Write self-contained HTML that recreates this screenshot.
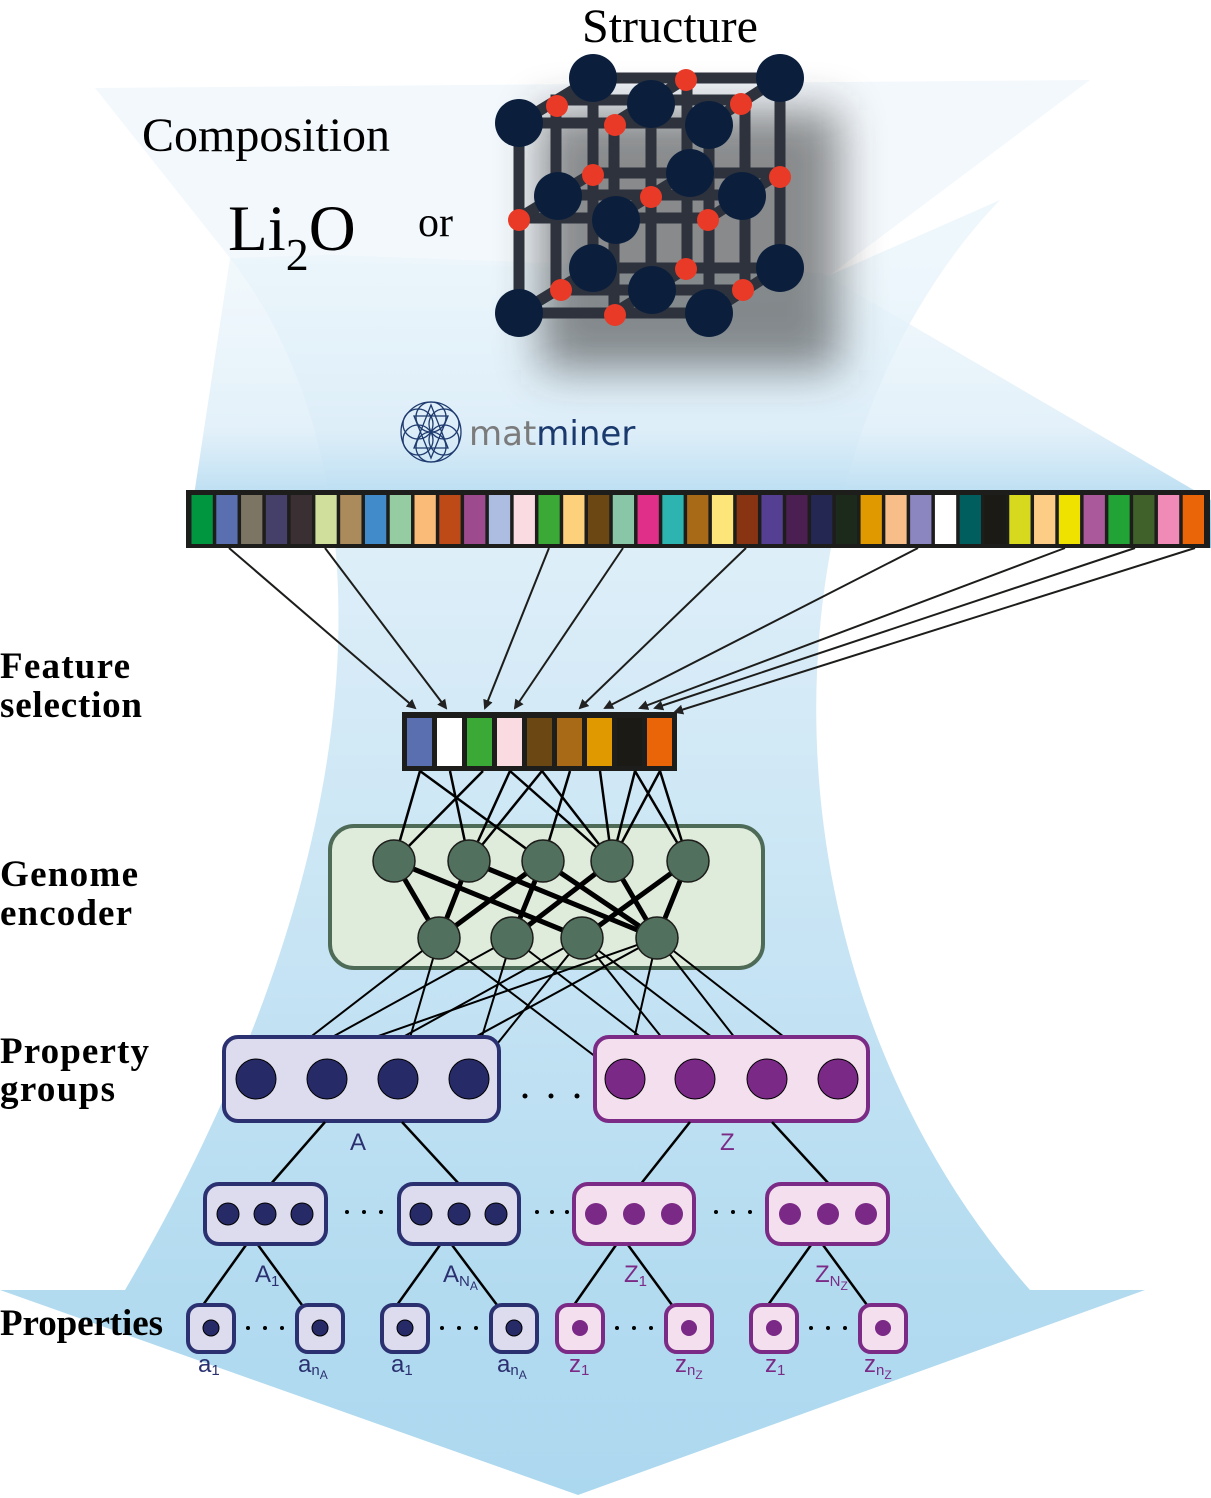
<!DOCTYPE html>
<html><head><meta charset="utf-8"><style>
html,body{margin:0;padding:0;background:#fff}
svg{display:block}
.lbl{font-family:"Liberation Serif",serif;font-weight:bold;font-size:37px;fill:#000}
.sm{font-family:"Liberation Sans",sans-serif;font-size:24px}
</style></head><body>
<svg width="1211" height="1498" viewBox="0 0 1211 1498" xmlns="http://www.w3.org/2000/svg">
<defs>
<linearGradient id="body" x1="0" y1="0" x2="0" y2="1498" gradientUnits="userSpaceOnUse">
<stop offset="0.17" stop-color="#eef7fc"/><stop offset="0.45" stop-color="#d6ebf7"/><stop offset="0.86" stop-color="#b3dbf0"/><stop offset="1" stop-color="#acd8ef"/>
</linearGradient>
<linearGradient id="fan" x1="0" y1="250" x2="0" y2="548" gradientUnits="userSpaceOnUse">
<stop offset="0" stop-color="#eaf5fb" stop-opacity="0.6"/><stop offset="0.6" stop-color="#dcedf8" stop-opacity="0.8"/><stop offset="0.85" stop-color="#b6dcf1"/><stop offset="1" stop-color="#86c6e8"/>
</linearGradient>
<filter id="blur" x="-30%" y="-30%" width="160%" height="160%"><feGaussianBlur stdDeviation="22"/></filter>
<marker id="ah" markerWidth="10" markerHeight="10" refX="8" refY="5" orient="auto" markerUnits="userSpaceOnUse" viewBox="0 0 10 10"><path d="M0,0 L10,5 L0,10 z" fill="#222"/></marker>
</defs>
<!-- background -->
<path d="M95,88 L1090,80 L830,275 L230,258 Z" fill="#f3f8fc"/>
<path d="M230,258 C380,450 400,820 125,1290 L0,1290 L578,1495 L1145,1290 L1030,1290 C740,960 760,450 1000,200 L830,275 Z" fill="url(#body)"/>
<path d="M230,258 L330,255 L822,273 L1211,500 L1211,548 L186,548 Z" fill="url(#fan)"/>
<!-- crystal shadow -->
<rect x="540" y="110" width="300" height="260" fill="#333" opacity="0.55" filter="url(#blur)"/>
<!-- crystal -->
<g stroke="#2d323c" stroke-width="11" fill="none">
<path d="M593,78 H780 V268 H593 Z"/>
<path d="M556,100 H745 V290 H556 Z"/>
<path d="M519,123 H709 V313 H519 Z"/>
<path d="M519,123 L593,78 M709,123 L780,78 M519,313 L593,268 M709,313 L780,268"/>
<path d="M614,123 V313 M519,218 H709 M651,100 V290 M556,195 H745 M687,78 V268 M593,173 H780"/>
<path d="M614,123 L687,78 M614,313 L687,268 M519,218 L593,173 M709,218 L780,173 M614,218 L687,173"/>
</g>
<g fill="#0b1f3d">
<ellipse cx="593" cy="78" rx="24" ry="24"/><ellipse cx="780" cy="78" rx="24" ry="24"/>
<ellipse cx="519" cy="123" rx="24" ry="24"/><ellipse cx="651" cy="104" rx="24" ry="24"/><ellipse cx="709" cy="125" rx="24" ry="24"/>
<ellipse cx="690" cy="173" rx="24" ry="24"/><ellipse cx="558" cy="196" rx="24" ry="24"/><ellipse cx="742" cy="196" rx="24" ry="24"/><ellipse cx="616" cy="220" rx="24" ry="24"/>
<ellipse cx="593" cy="268" rx="24" ry="24"/><ellipse cx="780" cy="268" rx="24" ry="24"/><ellipse cx="652" cy="290" rx="24" ry="24"/>
<ellipse cx="519" cy="313" rx="24" ry="24"/><ellipse cx="709" cy="313" rx="24" ry="24"/>
</g>
<g fill="#e83a26">
<circle cx="686" cy="80" r="11"/><circle cx="557" cy="106" r="11"/><circle cx="741" cy="104" r="11"/><circle cx="615" cy="125" r="11"/>
<circle cx="593" cy="175" r="11"/><circle cx="780" cy="177" r="11"/><circle cx="651" cy="197" r="11"/><circle cx="708" cy="220" r="11"/><circle cx="519" cy="220" r="11"/>
<circle cx="686" cy="269" r="11"/><circle cx="561" cy="290" r="11"/><circle cx="743" cy="290" r="11"/><circle cx="615" cy="315" r="11"/>
</g>
<!-- top text -->
<text x="582" y="42" font-family="Liberation Serif,serif" font-size="48">Structure</text>
<text x="142" y="151" font-family="Liberation Serif,serif" font-size="48">Composition</text>
<text x="228" y="250" font-family="Liberation Serif,serif" font-size="65">Li<tspan font-size="46" dy="20">2</tspan><tspan dy="-20">O</tspan></text>
<text x="418" y="236" font-family="Liberation Serif,serif" font-size="42">or</text>
<!-- matminer logo -->
<g fill="none" stroke="#1e3a6e" stroke-width="1.3">
<circle cx="431" cy="417" r="15"/><circle cx="431" cy="447" r="15"/><circle cx="418" cy="424" r="15"/><circle cx="444" cy="424" r="15"/><circle cx="418" cy="440" r="15"/><circle cx="444" cy="440" r="15"/><circle cx="431" cy="432" r="30"/>
<path d="M431,405 L414,448 L448,448 Z M414,416 L448,416 L431,458 Z"/>
</g>
<text x="469" y="445" font-family="DejaVu Sans,sans-serif" font-size="34"><tspan fill="#7b7b7b">mat</tspan><tspan fill="#1a3a6e">miner</tspan></text>
<!-- feature bar -->
<rect x="186" y="490" width="1024" height="58" fill="#1d1d1b"/>
<g id="cells"></g>
<!-- arrows -->
<g stroke="#1d1d1b" stroke-width="2" marker-end="url(#ah)">
<line x1="229" y1="548" x2="415" y2="708"/>
<line x1="325" y1="548" x2="446" y2="708"/>
<line x1="549" y1="548" x2="485" y2="708"/>
<line x1="623" y1="548" x2="515" y2="708"/>
<line x1="746" y1="548" x2="580" y2="708"/>
<line x1="918" y1="548" x2="605" y2="708"/>
<line x1="1065" y1="548" x2="640" y2="708"/>
<line x1="1135" y1="548" x2="655" y2="708"/>
<line x1="1195" y1="548" x2="675" y2="712"/>
</g>
<!-- selected bar -->
<rect x="402" y="712" width="275" height="59" fill="#1d1d1b"/>
<g id="sel"></g>
<!-- genome encoder -->
<rect x="330" y="826" width="433" height="142" rx="24" fill="#e0ecdb" stroke="#4e6b58" stroke-width="4"/>
<g stroke="#000" stroke-width="2.5">
<line x1="420" y1="771" x2="394" y2="861"/><line x1="420" y1="771" x2="543" y2="861"/>
<line x1="450" y1="771" x2="469" y2="861"/><line x1="483" y1="771" x2="394" y2="861"/>
<line x1="510" y1="771" x2="469" y2="861"/><line x1="510" y1="771" x2="612" y2="861"/>
<line x1="542" y1="771" x2="469" y2="861"/><line x1="542" y1="771" x2="612" y2="861"/>
<line x1="570" y1="771" x2="543" y2="861"/><line x1="600" y1="771" x2="612" y2="861"/>
<line x1="635" y1="771" x2="612" y2="861"/><line x1="635" y1="771" x2="688" y2="861"/>
<line x1="660" y1="771" x2="612" y2="861"/><line x1="660" y1="771" x2="688" y2="861"/>
</g>
<g stroke="#000" stroke-width="5">
<line x1="394" y1="861" x2="439" y2="938"/><line x1="394" y1="861" x2="582" y2="938"/>
<line x1="469" y1="861" x2="439" y2="938"/><line x1="469" y1="861" x2="657" y2="938"/>
<line x1="543" y1="861" x2="439" y2="938"/><line x1="543" y1="861" x2="512" y2="938"/><line x1="543" y1="861" x2="657" y2="938"/>
<line x1="612" y1="861" x2="512" y2="938"/><line x1="612" y1="861" x2="657" y2="938"/>
<line x1="688" y1="861" x2="582" y2="938"/><line x1="688" y1="861" x2="657" y2="938"/>
</g>
<!-- to property groups -->
<g stroke="#000" stroke-width="2">
<line x1="439" y1="938" x2="256" y2="1079"/><line x1="439" y1="938" x2="398" y2="1079"/><line x1="439" y1="938" x2="625" y2="1079"/>
<line x1="512" y1="938" x2="256" y2="1079"/><line x1="512" y1="938" x2="469" y2="1079"/><line x1="512" y1="938" x2="695" y2="1079"/>
<line x1="582" y1="938" x2="327" y2="1079"/><line x1="582" y1="938" x2="469" y2="1079"/><line x1="582" y1="938" x2="695" y2="1079"/><line x1="582" y1="938" x2="767" y2="1079"/>
<line x1="657" y1="938" x2="256" y2="1079"/><line x1="657" y1="938" x2="398" y2="1079"/><line x1="657" y1="938" x2="625" y2="1079"/><line x1="657" y1="938" x2="767" y2="1079"/><line x1="657" y1="938" x2="838" y2="1079"/>
</g>
<g fill="#51705d" stroke="#1d1d1b" stroke-width="1.5">
<circle cx="394" cy="861" r="21"/><circle cx="469" cy="861" r="21"/><circle cx="543" cy="861" r="21"/><circle cx="612" cy="861" r="21"/><circle cx="688" cy="861" r="21"/>
<circle cx="439" cy="938" r="21"/><circle cx="512" cy="938" r="21"/><circle cx="582" cy="938" r="21"/><circle cx="657" cy="938" r="21"/>
</g>
<!-- property groups -->
<rect x="224" y="1037" width="275" height="84" rx="14" fill="#dcdcee" stroke="#2b3170" stroke-width="4"/>
<rect x="595" y="1037" width="273" height="84" rx="14" fill="#f4dfee" stroke="#7b2a86" stroke-width="4"/>
<g fill="#262a66" stroke="#000" stroke-width="1"><circle cx="256" cy="1079" r="20"/><circle cx="327" cy="1079" r="20"/><circle cx="398" cy="1079" r="20"/><circle cx="469" cy="1079" r="20"/></g>
<g fill="#7a2a86" stroke="#000" stroke-width="1"><circle cx="625" cy="1079" r="20"/><circle cx="695" cy="1079" r="20"/><circle cx="767" cy="1079" r="20"/><circle cx="838" cy="1079" r="20"/></g>
<g fill="#000"><circle cx="525" cy="1096" r="2.5"/><circle cx="551" cy="1096" r="2.5"/><circle cx="577" cy="1096" r="2.5"/></g>
<text x="350" y="1150" class="sm" fill="#2b3170">A</text>
<text x="720" y="1150" class="sm" fill="#7b2a86">Z</text>
<g stroke="#000" stroke-width="2.5">
<line x1="325" y1="1122" x2="270" y2="1185"/><line x1="402" y1="1122" x2="460" y2="1185"/>
<line x1="690" y1="1122" x2="640" y2="1185"/><line x1="772" y1="1122" x2="830" y2="1185"/>
<line x1="246" y1="1245" x2="203" y2="1305"/><line x1="258" y1="1245" x2="302" y2="1305"/>
<line x1="440" y1="1245" x2="397" y2="1305"/><line x1="452" y1="1245" x2="497" y2="1305"/>
<line x1="616" y1="1245" x2="574" y2="1305"/><line x1="628" y1="1245" x2="672" y2="1305"/>
<line x1="811" y1="1245" x2="768" y2="1305"/><line x1="823" y1="1245" x2="867" y2="1305"/>
</g>
<!-- sub groups -->
<g stroke-width="4">
<rect x="205" y="1184" width="121" height="60" rx="14" fill="#dcdcee" stroke="#2b3170"/>
<rect x="399" y="1184" width="120" height="60" rx="14" fill="#dcdcee" stroke="#2b3170"/>
<rect x="574" y="1184" width="120" height="60" rx="14" fill="#f4dfee" stroke="#7b2a86"/>
<rect x="767" y="1184" width="121" height="60" rx="14" fill="#f4dfee" stroke="#7b2a86"/>
</g>
<g fill="#262a66" stroke="#000" stroke-width="1"><circle cx="228" cy="1214" r="11"/><circle cx="265" cy="1214" r="11"/><circle cx="302" cy="1214" r="11"/><circle cx="421" cy="1214" r="11"/><circle cx="459" cy="1214" r="11"/><circle cx="496" cy="1214" r="11"/></g>
<g fill="#7a2a86"><circle cx="596" cy="1214" r="11"/><circle cx="634" cy="1214" r="11"/><circle cx="672" cy="1214" r="11"/><circle cx="790" cy="1214" r="11"/><circle cx="828" cy="1214" r="11"/><circle cx="866" cy="1214" r="11"/></g>
<g fill="#000"><circle cx="347" cy="1212" r="2"/><circle cx="364" cy="1212" r="2"/><circle cx="381" cy="1212" r="2"/>
<circle cx="537" cy="1212" r="2"/><circle cx="552" cy="1212" r="2"/><circle cx="567" cy="1212" r="2"/>
<circle cx="716" cy="1212" r="2"/><circle cx="733" cy="1212" r="2"/><circle cx="750" cy="1212" r="2"/></g>
<g class="sm">
<text x="255" y="1282" fill="#2b3170">A<tspan font-size="15" dy="4">1</tspan></text>
<text x="443" y="1282" fill="#2b3170">A<tspan font-size="15" dy="4">N</tspan><tspan font-size="12" dy="4">A</tspan></text>
<text x="624" y="1282" fill="#7b2a86">Z<tspan font-size="15" dy="4">1</tspan></text>
<text x="815" y="1282" fill="#7b2a86">Z<tspan font-size="15" dy="4">N</tspan><tspan font-size="12" dy="4">Z</tspan></text>
</g>
<!-- properties -->
<g stroke-width="4">
<rect x="188" y="1305" width="46" height="47" rx="11" fill="#dcdcee" stroke="#2b3170"/>
<rect x="297" y="1305" width="46" height="47" rx="11" fill="#dcdcee" stroke="#2b3170"/>
<rect x="382" y="1305" width="46" height="47" rx="11" fill="#dcdcee" stroke="#2b3170"/>
<rect x="491" y="1305" width="46" height="47" rx="11" fill="#dcdcee" stroke="#2b3170"/>
<rect x="557" y="1305" width="46" height="47" rx="11" fill="#f4dfee" stroke="#7b2a86"/>
<rect x="666" y="1305" width="46" height="47" rx="11" fill="#f4dfee" stroke="#7b2a86"/>
<rect x="751" y="1305" width="46" height="47" rx="11" fill="#f4dfee" stroke="#7b2a86"/>
<rect x="860" y="1305" width="46" height="47" rx="11" fill="#f4dfee" stroke="#7b2a86"/>
</g>
<g fill="#262a66" stroke="#000" stroke-width="1"><circle cx="211" cy="1328" r="8"/><circle cx="320" cy="1328" r="8"/><circle cx="405" cy="1328" r="8"/><circle cx="514" cy="1328" r="8"/></g>
<g fill="#7a2a86"><circle cx="580" cy="1328" r="8"/><circle cx="689" cy="1328" r="8"/><circle cx="774" cy="1328" r="8"/><circle cx="883" cy="1328" r="8"/></g>
<g fill="#000">
<circle cx="248" cy="1328" r="2"/><circle cx="265" cy="1328" r="2"/><circle cx="282" cy="1328" r="2"/>
<circle cx="442" cy="1328" r="2"/><circle cx="459" cy="1328" r="2"/><circle cx="476" cy="1328" r="2"/>
<circle cx="617" cy="1328" r="2"/><circle cx="634" cy="1328" r="2"/><circle cx="651" cy="1328" r="2"/>
<circle cx="811" cy="1328" r="2"/><circle cx="828" cy="1328" r="2"/><circle cx="845" cy="1328" r="2"/>
</g>
<g class="sm">
<text x="198" y="1372" fill="#2b3170">a<tspan font-size="15" dy="3">1</tspan></text>
<text x="298" y="1372" fill="#2b3170">a<tspan font-size="15" dy="3">n</tspan><tspan font-size="12" dy="4">A</tspan></text>
<text x="391" y="1372" fill="#2b3170">a<tspan font-size="15" dy="3">1</tspan></text>
<text x="497" y="1372" fill="#2b3170">a<tspan font-size="15" dy="3">n</tspan><tspan font-size="12" dy="4">A</tspan></text>
<text x="569" y="1372" fill="#7b2a86">z<tspan font-size="15" dy="3">1</tspan></text>
<text x="675" y="1372" fill="#7b2a86">z<tspan font-size="15" dy="3">n</tspan><tspan font-size="12" dy="4">Z</tspan></text>
<text x="765" y="1372" fill="#7b2a86">z<tspan font-size="15" dy="3">1</tspan></text>
<text x="864" y="1372" fill="#7b2a86">z<tspan font-size="15" dy="3">n</tspan><tspan font-size="12" dy="4">Z</tspan></text>
</g>
<!-- left labels -->
<text class="lbl" x="0" y="678" textLength="130">Feature</text><text class="lbl" x="0" y="717" textLength="142">selection</text>
<text class="lbl" x="0" y="886" textLength="138">Genome</text><text class="lbl" x="0" y="925" textLength="132">encoder</text>
<text class="lbl" x="0" y="1063" textLength="149">Property</text><text class="lbl" x="0" y="1101" textLength="115">groups</text>
<text class="lbl" x="0" y="1335" textLength="163">Properties</text>
</svg>
<script>
(function(){
var ns="http://www.w3.org/2000/svg";
var c=["#009640","#5a6fb0","#7d7564","#45406a","#3a3033","#d0e09c","#ab8a5c","#428bca","#96cca2","#fbbb78","#be4a18","#9d4a8f","#adbde2","#fadbe2","#3aa935","#fdd17b","#6b4713","#88c6a7","#e02f89","#2db3b0","#a86a16","#fee57a","#883312","#553f92","#4c1f52","#242752","#1c2a1c","#e09a00","#f8be8a","#8c86c0","#ffffff","#005e5e","#1c1a14","#d6d91e","#fdcd85","#efe200","#aa5a9a","#22a336","#40622a","#ef8bb6","#ea6508"];
var g=document.getElementById("cells");
var step=(1206-190)/41;
for(var i=0;i<41;i++){var r=document.createElementNS(ns,"rect");r.setAttribute("x",190+i*step+1.5);r.setAttribute("y",495);r.setAttribute("width",step-3.5);r.setAttribute("height",49);r.setAttribute("fill",c[i]);g.appendChild(r);}
var s=["#5a6fb0","#ffffff","#3aa935","#fadbe2","#6b4713","#a86a16","#e09a00","#1c1a14","#ea6508"];
var g2=document.getElementById("sel");
for(var j=0;j<9;j++){var r2=document.createElementNS(ns,"rect");r2.setAttribute("x",407+j*30);r2.setAttribute("y",718);r2.setAttribute("width",25);r2.setAttribute("height",48);r2.setAttribute("fill",s[j]);g2.appendChild(r2);}
})();
</script>
</body></html>
